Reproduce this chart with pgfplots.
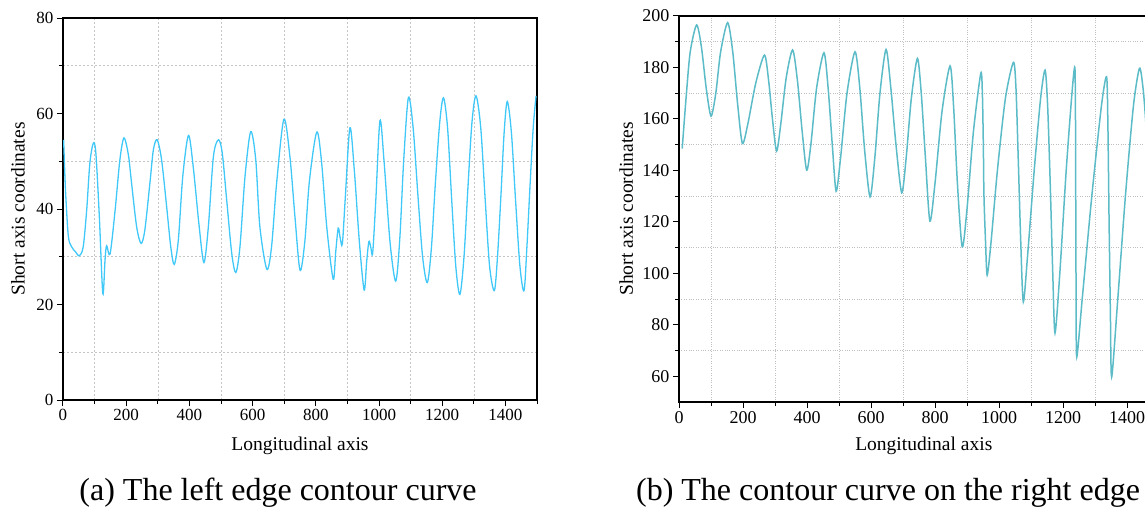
\documentclass[border=0pt]{standalone}
\usepackage{fontspec}
\setmainfont{Liberation Serif}
\usepackage{pgfplots}
\pgfplotsset{compat=1.18}

\definecolor{leftcurve}{HTML}{40C8F8}
\definecolor{rightcurve}{HTML}{5BBCC8}

\pgfplotsset{
  contour/.style={
    scale only axis, anchor=south west,
    xmin=0, xmax=1500,
    xtick={0,200,...,1400}, minor xtick={100,300,...,1500},
    tick align=outside, tick pos=left,
    major tick length=6pt, minor tick length=4pt,
    tick style={black, line width=1pt},
    axis line style={black, line width=1.2pt},
    grid=minor,
    /pgf/number format/assume math mode=true,
    /pgf/number format/1000 sep={},
    scaled ticks=false,
    xlabel={Longitudinal axis}, ylabel={Short axis coordinates},
    label style={font=\fontsize{19.5}{20}\selectfont},
  },
}

\begin{document}
\begin{tikzpicture}
\useasboundingbox (0pt,0pt) rectangle (1145pt,509pt);

% (a) left edge
\begin{axis}[contour,
  at={(63pt,109pt)}, width=474pt, height=382pt,
  ymin=0, ymax=80, ytick={0,20,...,80}, minor ytick={10,30,50,70},
  minor grid style={gray!45, dash pattern=on 2pt off 2pt, line width=0.6pt},
  tick label style={font=\fontsize{17}{17}\selectfont},
  xlabel style={at={(axis description cs:0.5,-0.12)}, anchor=center},
  ylabel style={at={(axis description cs:-0.095,0.5)}, anchor=center},
]
\addplot[leftcurve, line width=1.3pt, smooth, tension=0.5] coordinates {
 (2,54.5) (6,47) (9.5,41.9) (17,34.2) (27,32.1) (40,31) (52,30.2) (64,32.1)
 (75,39.8) (85,49.6) (96,53.8) (104,51.7) (115,38.4) (126,22.3) (133,29.3)
 (138,32.3) (149,30.6) (165,39.8) (180,50.3) (193,54.9) (207,51.3) (217,45.4)
 (233,36.3) (247,32.8) (259,35.6) (275,45.4) (286,52.4) (298,54.5) (312,50.3)
 (328,40.5) (341,32.1) (352,28.4) (365,33.5) (379,46.8) (397,55.4) (412,48.9)
 (431,36.3) (446,28.8) (460,36.3) (476,51) (492,54.5) (504,51.7) (518,41.9)
 (534,30.7) (547,26.7) (560,32.1) (576,46.8) (594,56.2) (610,50.3) (623,36.3)
 (645,27.4) (660,32.1) (676,45.4) (699,58.8) (718,51) (734,38.4) (750,27.2)
 (765,33) (780,46) (803,56.1) (818,50) (835,36) (855,25.3) (863,31) (871,36)
 (877,34) (884,32.7) (893,42) (908,57) (922,48) (938,33) (953,23) (961,29)
 (968,33.2) (974,32) (980,30.8) (990,42) (1003,58.5) (1016,50) (1035,33)
 (1053,24.9) (1066,34) (1078,50) (1093,63.3) (1108,57) (1123,43) (1138,30)
 (1153,24.6) (1166,32) (1178,45) (1192,58) (1204,63.3) (1217,57) (1230,42)
 (1243,28) (1256,22.1) (1269,30) (1281,44) (1294,58) (1307,63.7) (1322,57)
 (1336,42) (1350,28) (1365,22.9) (1375,30) (1386,43) (1396,56) (1406,62.5)
 (1419,56) (1432,42) (1446,28) (1459,22.9) (1468,32) (1478,45) (1488,57)
 (1497,63.7)
};
\end{axis}

% (b) right edge
\begin{axis}[contour,
  at={(679pt,107pt)}, width=480pt, height=386pt,
  ymin=50, ymax=200, ytick={60,80,...,200}, minor ytick={70,90,...,190},
  minor grid style={gray!50, dotted, line width=0.7pt},
  tick label style={font=\fontsize{18}{18}\selectfont},
  xlabel style={at={(axis description cs:0.51,-0.114)}, anchor=center},
  ylabel style={at={(axis description cs:-0.11,0.5)}, anchor=center},
]
\addplot[rightcurve, line width=1.5pt, smooth, tension=0.45] coordinates {
 (10,148.5) (22,168) (35,186) (55,196.5) (70,188) (85,172) (100,161.1)
 (115,170) (130,186) (152,197.4) (168,186) (183,166) (198,150.5) (215,158)
 (240,174) (267,184.8) (280,175) (292,160) (305,147.5) (318,158) (335,176)
 (355,186.8) (370,175) (385,155) (399,140.1) (412,150) (430,172) (453,185.7)
 (466,172) (479,150) (491,131.9) (505,145) (525,170) (550,186.1) (565,172)
 (580,148) (597,129.7) (612,145) (628,170) (647,187) (662,172) (678,150)
 (696,131.3) (710,145) (726,168) (745,183.5) (757,170) (770,145) (784,120.3)
 (800,135) (822,163) (847,180.6) (858,165) (870,135) (885,110.3) (900,125)
 (920,155) (943,177.7) (948,170) (951,150) (953,130) (958,112) (963,99.3)
 (975,112) (995,140) (1020,168) (1045,182) (1053,172) (1060,145) (1068,112)
 (1076,88.9) (1090,108) (1110,140) (1130,168) (1144,179) (1152,165)
 (1160,135) (1168,100) (1175,76.8) (1190,100) (1210,140) (1228,170)
 (1237,180) (1239,160) (1240,120) (1241,90) (1243,67.5) (1260,90) (1290,130)
 (1320,165) (1336,176.4) (1340,160) (1344,120) (1348,85) (1352,59.7)
 (1370,88) (1395,130) (1420,165) (1439,179.7) (1450,172) (1458,160)
 (1470,135) (1480,110)
};
\end{axis}

\node[font=\fontsize{32}{34}\selectfont, anchor=base] at (278pt,9pt) {(a) The left edge contour curve};
\node[font=\fontsize{32}{34}\selectfont, anchor=base] at (888pt,9pt) {(b) The contour curve on the right edge};
\end{tikzpicture}
\end{document}
